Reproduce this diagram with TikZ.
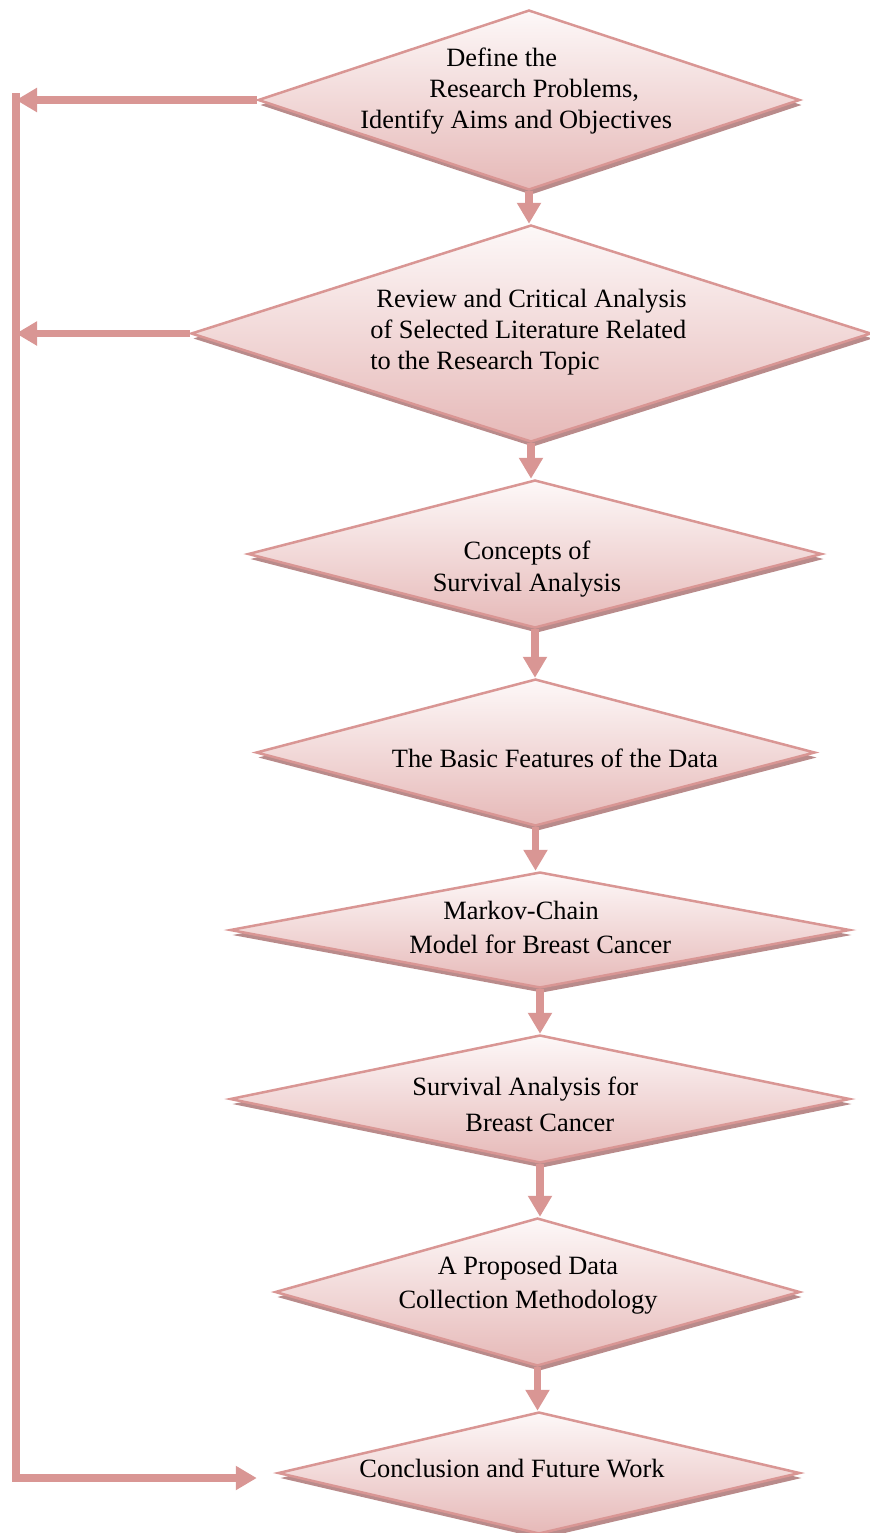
\documentclass[tikz,border=0pt]{standalone}
\usepackage{fontspec}
\setmainfont{Liberation Serif}
\usetikzlibrary{shapes.geometric,shadows,arrows.meta}
\definecolor{rosy}{HTML}{D99694}
\definecolor{rosyfill}{HTML}{E6B9B8}
\definecolor{rosytop}{HTML}{FDF8F8}
\definecolor{rosyshadow}{HTML}{B98B8B}

\begin{document}
\begin{tikzpicture}[x=0.5pt,y=-0.5pt]
\tikzstyle{every node}+=[inner sep=0pt, font=\fontsize{13.2}{15.5}\selectfont]
\tikzstyle{box}=[diamond, draw=rosy, line width=1.25pt, top color=rosytop, bottom color=rosyfill, drop shadow={shadow xshift=1pt, shadow yshift=-2.5pt, fill=rosyshadow, opacity=1}]
\tikzstyle{flow}=[draw=rosy, line width=3.6pt, line join=miter, -{Triangle[width=11.5pt,length=10.5pt]}]
\useasboundingbox (0,0) rectangle (869,1533);
% the steps
\node (d1) [box, minimum width=271pt, minimum height=90pt] at (529,100) {};
\node (d2) [box, minimum width=340pt, minimum height=108.5pt] at (531,333.5) {};
\node (d3) [box, minimum width=287pt, minimum height=74pt] at (535,554) {};
\node (d4) [box, minimum width=279.5pt, minimum height=73.5pt] at (535.5,752.5) {};
\node (d5) [box, minimum width=310pt, minimum height=58pt] at (540,930) {};
\node (d6) [box, minimum width=310pt, minimum height=64pt] at (540,1099) {};
\node (d7) [box, minimum width=262.5pt, minimum height=74pt] at (537.5,1292) {};
\node (d8) [box, minimum width=261pt, minimum height=61pt] at (539,1473) {};
% their texts
\node (t1) [anchor=west, align=left] at (360,91.5) {\hspace*{43pt}Define the\\\hspace*{34.5pt}Research Problems,\\Identify Aims and Objectives};
\node (t2) [anchor=west, align=left] at (370,332.5) {\hspace*{3pt}Review and Critical Analysis\\of Selected Literature Related\\to the Research Topic};
\node (t3) [align=center] at (527,569) {Concepts of\\[0.5pt]Survival Analysis};
\node (t4) at (555,758) {The Basic Features of the Data};
\node (t5) [anchor=west, align=left] at (409,927) {\hspace*{17pt}Markov-Chain\\[1.5pt]Model for Breast Cancer};
\node (t6) [anchor=west, align=left] at (412,1104) {Survival Analysis for\\[2.5pt]\hspace*{26.5pt}Breast Cancer};
\node (t7) [align=center] at (528,1285) {A Proposed Data\\[1.5pt]Collection Methodology};
\node (t8) at (512,1469) {Conclusion and Future Work};
% arrows
\foreach \a/\b in {d1/d2,d2/d3,d3/d4,d4/d5,d5/d6,d6/d7,d7/d8}
  \draw [flow] (\a.south) -- (\a.south |- \b.north);
\coordinate (railtop) at (16,93);
\coordinate (railbot) at (16,1478);
\draw [flow] (d1.west) -- (d1.west -| railtop);
\draw [flow] (d2.west) -- (d2.west -| railtop);
\draw [flow, shorten >=10pt] (railtop) -- (railbot) -- (railbot -| d8.west);
\end{tikzpicture}
\end{document}
